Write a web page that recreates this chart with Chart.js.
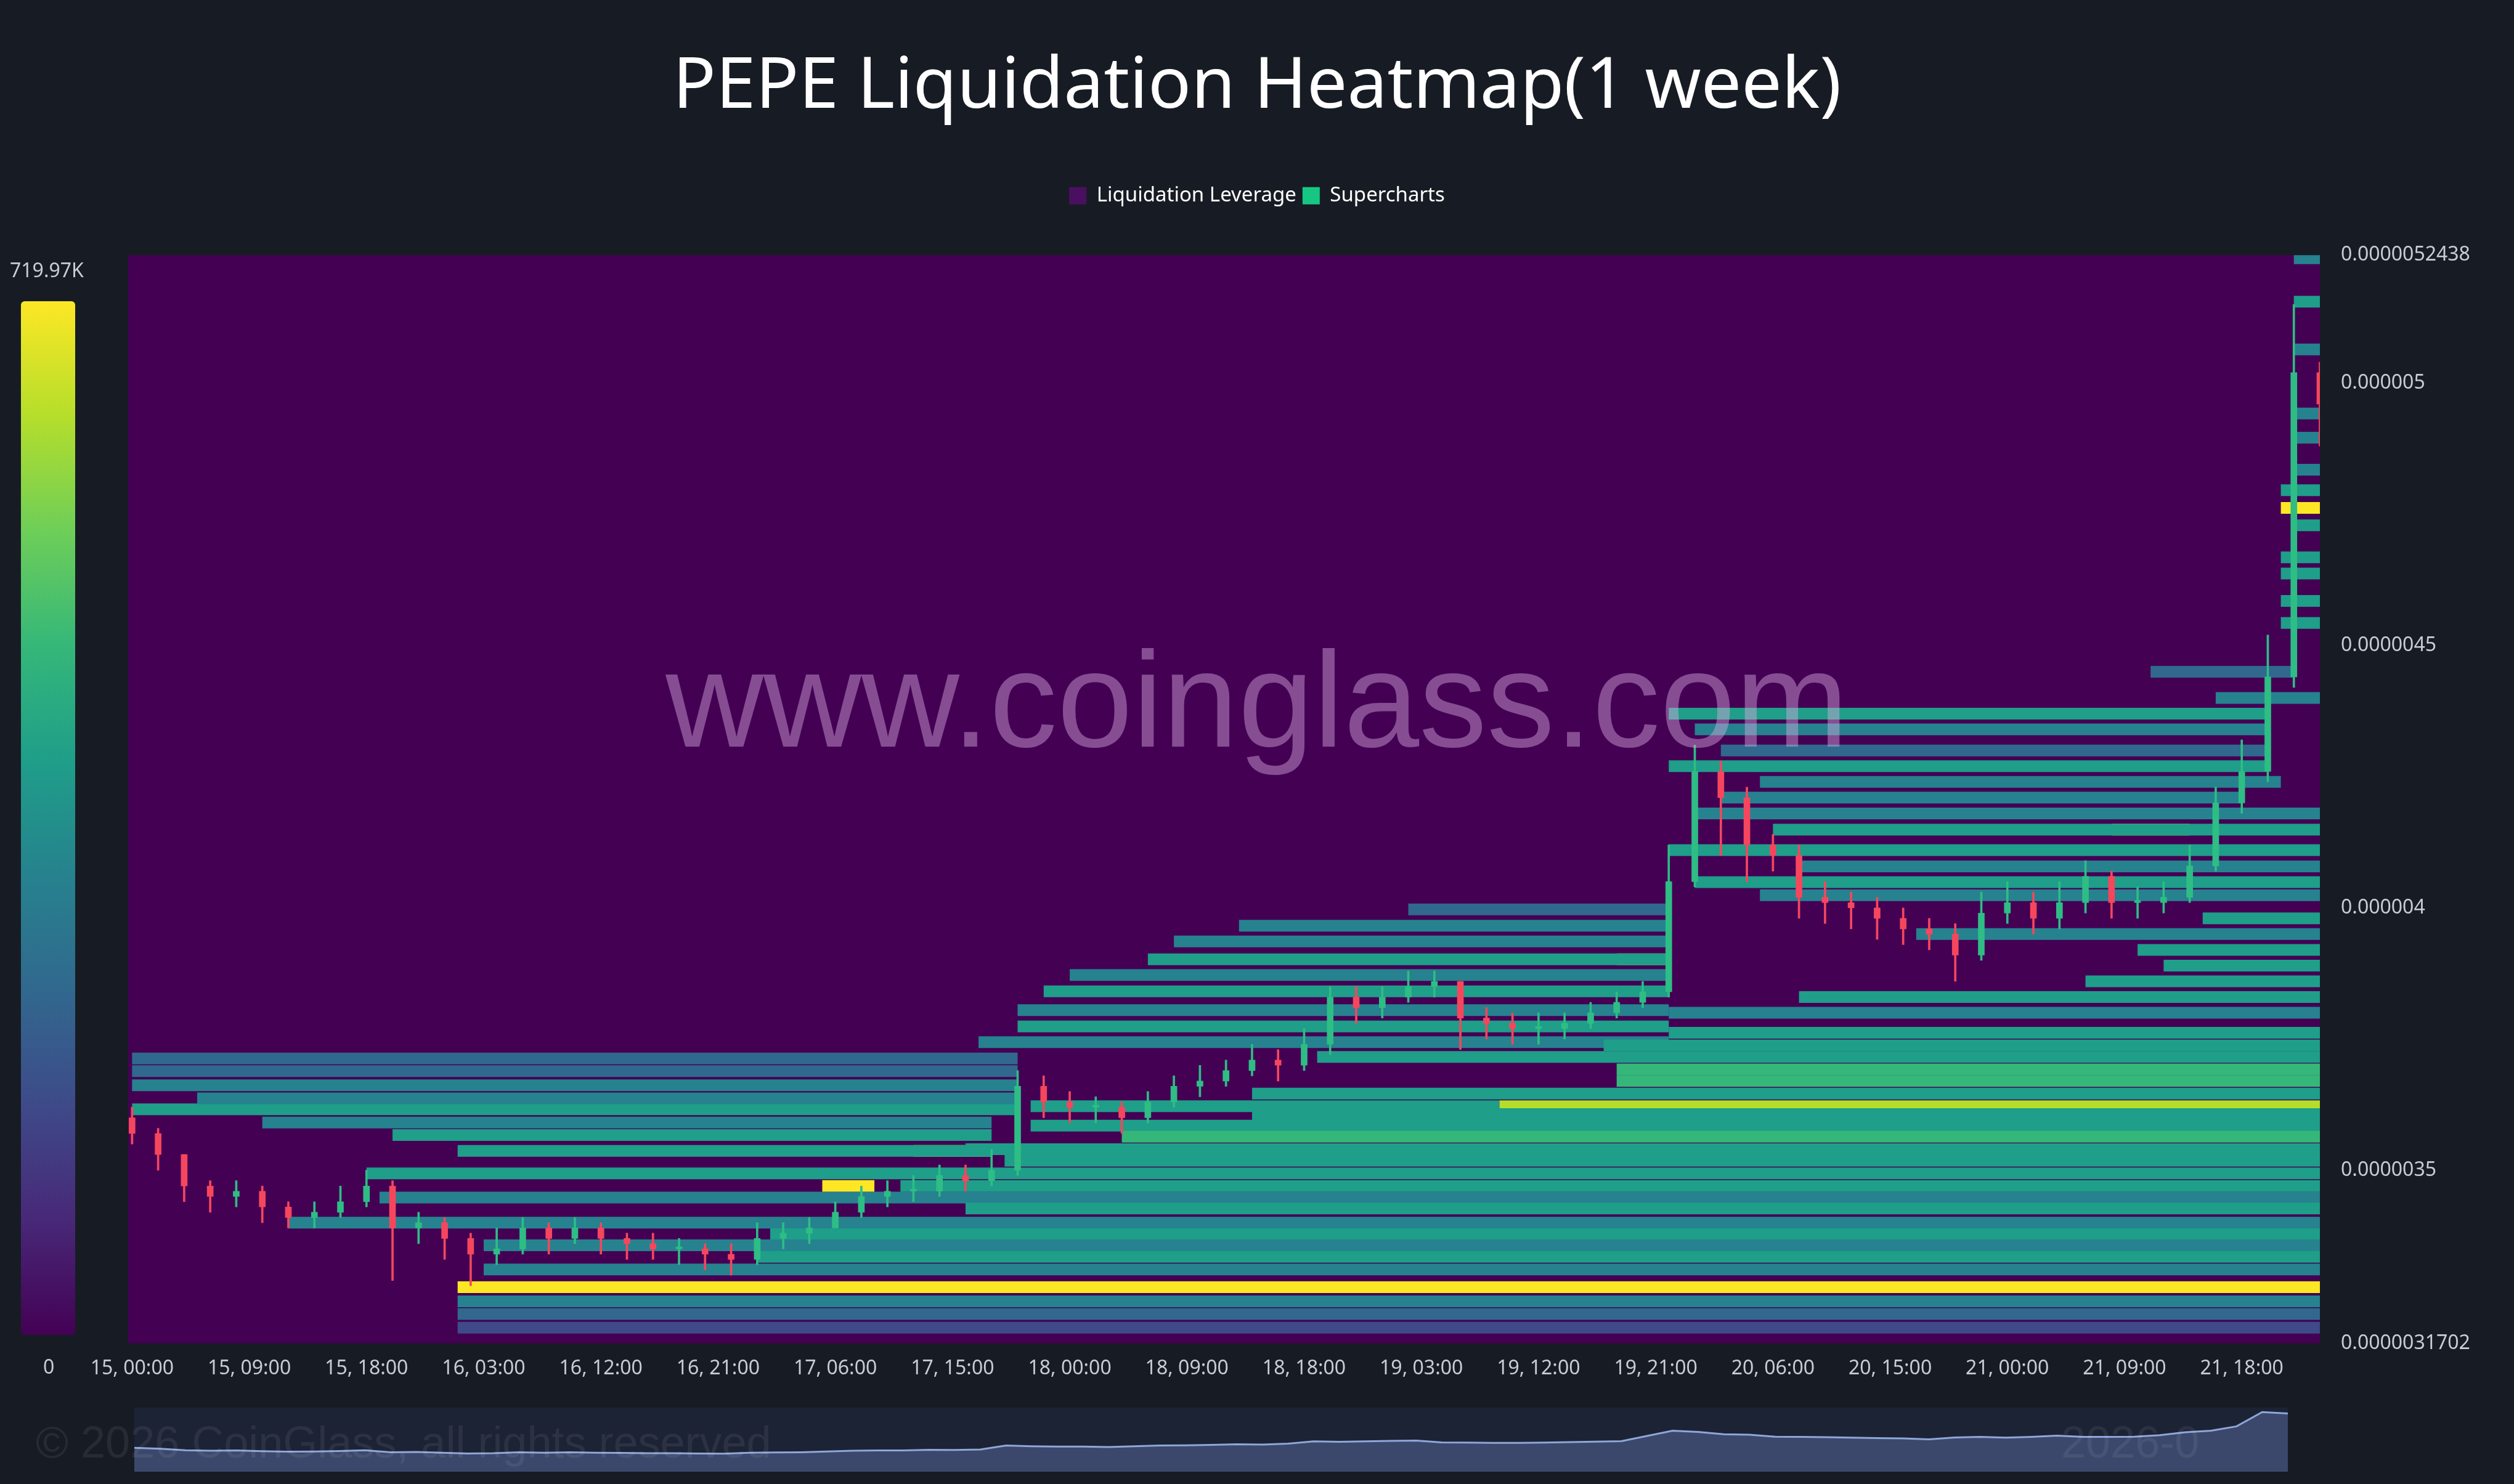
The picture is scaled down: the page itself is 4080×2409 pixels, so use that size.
<!DOCTYPE html>
<html>
<head>
<meta charset="utf-8">
<script src="https://cdn.jsdelivr.net/npm/chart.js@4"></script>
<style>
  body { margin: 0; background: #171c24; width: 4080px; height: 2409px; overflow: hidden; font-family: "Noto Sans", "Open Sans", sans-serif; }
  #main { position: absolute; left: 0; top: 0; }
  #colorbar { position: absolute; left: 34px; top: 489px; width: 88px; height: 1678px; border-radius: 6px;
    background: linear-gradient(to top, #440154, #482878, #3e4a89, #31688e, #26828e, #1f9e89, #35b779, #6ece58, #b5de2b, #fde725); }
  .cbl { position: absolute; color: #c8ccd4; font-size: 32px; }
  #watermark { position: absolute; left: 0; width: 4080px; top: 1010px; text-align: center; font-family: "Liberation Sans", Arial, sans-serif;
    font-size: 220px; color: rgba(215,170,225,0.45); pointer-events: none; }
  #nav { position: absolute; left: 218px; top: 2285px; width: 3495px; height: 104px; background: #1c2335; }
  #copy { position: absolute; left: 58px; top: 2300px; font-size: 72px; color: rgba(255,255,255,0.07); font-family: "Liberation Sans", sans-serif; }
  #copy2 { position: absolute; left: 3345px; top: 2300px; font-size: 72px; color: rgba(255,255,255,0.07); font-family: "Liberation Sans", sans-serif; }
</style>
</head>
<body>
<canvas id="main" width="4080" height="2409"></canvas>
<div id="colorbar"></div>
<div class="cbl" style="left:16px; top:416px;">719.97K</div>
<div class="cbl" style="left:70px; top:2196px;">0</div>
<div id="watermark">www.coinglass.com</div>
<div id="nav"><canvas id="navChart" width="3495" height="104"></canvas></div>
<div id="copy">© 2026 CoinGlass, all rights reserved</div>
<div id="copy2">2026-0</div>
<script>
// price values in units of 1e-6, time in hours from "15, 00:00"
const candleHours = [];
for (let h = 0; h <= 168; h += 2) candleHours.push(h);
const closes = [3.57,3.53,3.47,3.45,3.46,3.43,3.41,3.42,3.44,3.47,
  3.39,3.40,3.37,3.34,3.35,3.39,3.37,3.39,3.37,3.36,
  3.35,3.35,3.34,3.33,3.37,3.38,3.39,3.42,3.45,3.46,
  3.46,3.49,3.48,3.50,3.66,3.63,3.62,3.62,3.60,3.63,
  3.66,3.67,3.69,3.71,3.70,3.74,3.83,3.81,3.83,3.85,
  3.86,3.79,3.78,3.77,3.77,3.78,3.80,3.82,3.84,4.05,
  4.26,4.21,4.12,4.10,4.02,4.01,4.00,3.98,3.96,3.95,
  3.91,3.99,4.01,3.98,4.01,4.06,4.01,4.01,4.02,4.08,
  4.20,4.26,4.44,5.02,4.96];
const highs = [3.62,3.58,3.53,3.48,3.48,3.47,3.44,3.44,3.47,3.50,
  3.48,3.42,3.41,3.38,3.39,3.41,3.40,3.41,3.40,3.38,
  3.38,3.37,3.36,3.36,3.40,3.40,3.41,3.44,3.47,3.48,
  3.49,3.51,3.51,3.54,3.69,3.68,3.65,3.64,3.63,3.65,
  3.68,3.70,3.71,3.74,3.73,3.77,3.85,3.85,3.85,3.88,
  3.88,3.86,3.81,3.80,3.80,3.80,3.82,3.84,3.86,4.12,
  4.31,4.28,4.23,4.14,4.12,4.05,4.03,4.02,4.00,3.98,
  3.97,4.03,4.05,4.03,4.05,4.09,4.07,4.04,4.05,4.12,
  4.23,4.32,4.52,5.15,5.04];
const lows = [3.55,3.50,3.44,3.42,3.43,3.40,3.39,3.39,3.41,3.43,
  3.29,3.36,3.33,3.28,3.32,3.34,3.34,3.36,3.34,3.33,
  3.33,3.32,3.31,3.30,3.32,3.35,3.36,3.39,3.41,3.43,
  3.44,3.45,3.46,3.47,3.49,3.60,3.59,3.59,3.57,3.59,
  3.62,3.64,3.66,3.68,3.67,3.69,3.72,3.78,3.79,3.82,
  3.83,3.73,3.75,3.74,3.74,3.75,3.77,3.79,3.81,3.83,
  4.04,4.10,4.05,4.07,3.98,3.97,3.96,3.94,3.93,3.92,
  3.86,3.90,3.97,3.95,3.96,3.99,3.98,3.98,3.99,4.01,
  4.07,4.18,4.24,4.42,4.88];
const firstOpen = 3.60;

// liquidation bands: price, start hour, end hour, intensity 0..1
const bandPrice = [3.200,3.226,3.250,3.277,3.311,3.335,3.357,3.378,3.400,3.427,3.448,3.470,3.494,3.518,3.540,3.564,3.585,3.607,3.622,3.622,3.646,3.670,3.692,3.716,3.738,3.762,3.800,3.830,3.860,3.890,3.920,3.950,3.980,
  3.713,3.689,3.662,3.637,3.616,3.591,3.567,3.537,3.537,3.470,
  3.997,3.966,3.936,3.902,3.902,3.872,3.841,3.805,3.774,3.744,
  4.024,4.049,4.079,4.110,4.149,4.149,4.180,4.210,4.240,4.270,4.300,4.340,4.370,4.400,4.450,
  4.543,4.585,4.637,4.668,4.729,4.762,4.796,4.835,4.896,4.942,5.064,5.155,5.238];
const bandStart = [25,25,25,25,27,48,27,49,12,64,19,59,18,67,64,76,69,86,105,69,86,114,114,91,113,118,118,128,150,156,154,137,159,
  0,0,0,5,0,10,20,25,60,53,
  98,85,80,78,114,72,70,68,68,65,
  125,120,128,118,126,152,120,122,125,118,122,120,118,160,155,
  165,165,165,165,166,165,165,166,166,166,166,166,166];
const bandEnd = [168,168,168,168,168,168,168,168,168,168,168,168,168,168,168,168,168,168,168,105,168,168,168,168,168,168,168,168,168,168,168,168,168,
  68,68,68,68,68,66,66,66,66,57,
  118,118,118,118,118,118,118,118,118,118,
  168,168,168,168,168,158,168,162,165,164,164,164,164,168,166,
  168,168,168,168,168,168,168,168,168,168,168,168,168];
const bandLevel = [0.2,0.35,0.45,0.95,0.4,0.5,0.45,0.5,0.45,0.5,0.4,0.55,0.5,0.6,0.55,0.7,0.55,0.5,0.9,0.5,0.6,0.65,0.7,0.5,0.55,0.5,0.4,0.55,0.6,0.5,0.5,0.45,0.5,
  0.3,0.35,0.4,0.45,0.5,0.45,0.5,0.55,0.9,0.95,
  0.35,0.4,0.45,0.5,0.9,0.45,0.5,0.45,0.5,0.45,
  0.4,0.5,0.45,0.5,0.55,0.95,0.45,0.4,0.45,0.5,0.35,0.45,0.5,0.4,0.3,
  0.55,0.5,0.5,0.55,0.5,1.0,0.5,0.45,0.4,0.45,0.4,0.5,0.45];

const xTickHours = [0,9,18,27,36,45,54,63,72,81,90,99,108,117,126,135,144,153,162];
const xTickLabels = ['15, 00:00','15, 09:00','15, 18:00','16, 03:00','16, 12:00','16, 21:00','17, 06:00','17, 15:00','18, 00:00','18, 09:00','18, 18:00','19, 03:00','19, 12:00','19, 21:00','20, 06:00','20, 15:00','21, 00:00','21, 09:00','21, 18:00'];
const yTickValues = [3.1702, 3.5, 4, 4.5, 5, 5.2438];
const yTickLabels = ['0.0000031702','0.0000035','0.000004','0.0000045','0.000005','0.0000052438'];

const viridis = ['#440154','#482878','#3e4a89','#31688e','#26828e','#1f9e89','#35b779','#6ece58','#b5de2b','#fde725'];
function colorFor(v) {
  const i = Math.min(viridis.length - 1, Math.round(v * (viridis.length - 1)));
  return viridis[i];
}

const UP = '#2ebd85', DOWN = '#f6465d';
const opens = closes.map((c, i) => i === 0 ? firstOpen : closes[i - 1]);
const candleColors = closes.map((c, i) => c >= opens[i] ? UP : DOWN);

const datasets = [];
datasets.push({
  type: 'bar', label: 'bodies', order: 1, barThickness: 10, grouped: false,
  data: candleHours.map((h, i) => ({ x: h, y: [opens[i], closes[i] === opens[i] ? closes[i] + 0.004 : closes[i]] })),
  backgroundColor: candleColors
});
datasets.push({
  type: 'bar', label: 'wicks', order: 2, barThickness: 3, grouped: false,
  data: candleHours.map((h, i) => ({ x: h, y: [lows[i], highs[i]] })),
  backgroundColor: candleColors
});
bandPrice.forEach((p, i) => {
  datasets.push({
    type: 'line', label: 'band', order: 3,
    data: [{ x: bandStart[i], y: p }, { x: bandEnd[i], y: p }],
    borderColor: colorFor(bandLevel[i]), borderWidth: 19, borderCapStyle: 'butt',
    pointRadius: 0, fill: false
  });
});

const plotBg = {
  id: 'plotBg',
  beforeDatasetsDraw(chart) {
    const { ctx, chartArea: a } = chart;
    ctx.save();
    ctx.fillStyle = '#440154';
    ctx.fillRect(a.left, a.top, a.right - a.left, a.bottom - a.top);
    ctx.restore();
  }
};
const legendSpace = {
  id: 'legendSpace',
  beforeInit(chart) {
    const fit = chart.legend.fit;
    chart.legend.fit = function () { fit.call(this); this.height += 70; };
  }
};

new Chart(document.getElementById('main'), {
  data: { datasets },
  plugins: [plotBg, legendSpace],
  options: {
    responsive: false, animation: false,
    layout: { padding: { left: 0, right: 0, bottom: 154 } },
    plugins: {
      tooltip: { enabled: false },
      title: { display: true, text: 'PEPE Liquidation Heatmap(1 week)', color: '#ffffff',
        font: { size: 116, family: 'Noto Sans', weight: 'normal' }, padding: { top: 72, bottom: 80 } },
      legend: {
        display: true,
        labels: {
          color: '#ffffff', font: { size: 33, family: 'Noto Sans' }, boxWidth: 28, boxHeight: 28,
          generateLabels: () => [
            { text: 'Liquidation Leverage', fillStyle: '#4b0f62', strokeStyle: '#4b0f62', fontColor: '#ffffff', lineWidth: 0 },
            { text: 'Supercharts', fillStyle: '#16c784', strokeStyle: '#16c784', fontColor: '#ffffff', lineWidth: 0 }
          ]
        }
      }
    },
    scales: {
      x: {
        type: 'linear', min: -0.3, max: 168, offset: false,
        grid: { display: false }, border: { display: false },
        afterBuildTicks: s => { s.ticks = xTickHours.map(v => ({ value: v })); },
        ticks: { color: '#c8ccd4', font: { size: 32, family: 'Noto Sans' }, maxRotation: 0, autoSkip: false, padding: 14,
          callback: v => xTickLabels[xTickHours.indexOf(v)] }
      },
      y: {
        type: 'linear', position: 'right', min: 3.1702, max: 5.2438,
        grid: { display: false }, border: { display: false },
        afterBuildTicks: s => { s.ticks = yTickValues.map(v => ({ value: v })); },
        afterFit: s => { s.width = 315; },
        ticks: { color: '#c8ccd4', font: { size: 32, family: 'Noto Sans' }, padding: 26, autoSkip: false,
          callback: v => yTickLabels[yTickValues.indexOf(v)] }
      },
      ySpace: {
        type: 'linear', position: 'left', min: 0, max: 1,
        grid: { display: false }, border: { display: false },
        ticks: { display: false },
        afterFit: s => { s.width = 208; }
      }
    }
  }
});

new Chart(document.getElementById('navChart'), {
  type: 'line',
  data: { labels: candleHours, datasets: [{ data: closes, borderColor: '#8fa6d8', borderWidth: 3, pointRadius: 0,
    fill: 'start', backgroundColor: 'rgba(70,85,125,0.75)', tension: 0 }] },
  options: {
    responsive: false, animation: false,
    plugins: { legend: { display: false }, tooltip: { enabled: false } },
    layout: { padding: 0 },
    scales: { x: { display: false }, y: { display: false, min: 2.6, max: 5.2 } }
  }
});
</script>
</body>
</html>
